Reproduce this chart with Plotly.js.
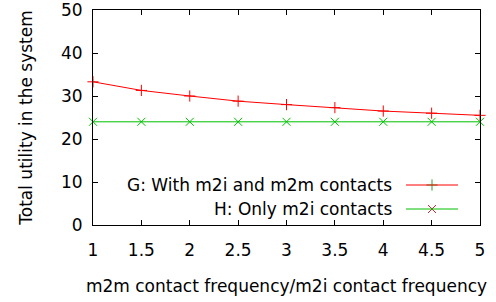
<!DOCTYPE html>
<html><head><meta charset="utf-8">
<script src="https://cdn.plot.ly/plotly-3.0.1.min.js"></script>
<style>html,body{margin:0;padding:0;background:#fff}#c{width:496px;height:302px}</style>
</head><body><div id="c"></div>
<script>
const ratio = [1, 1.5, 2, 2.5, 3, 3.5, 4, 4.5, 5];
const withM2m = [33.3, 31.3, 30.0, 28.8, 28.0, 27.3, 26.5, 26.0, 25.5];
const onlyM2i = [24.0, 24.0, 24.0, 24.0, 24.0, 24.0, 24.0, 24.0, 24.0];
const seriesNames = ["G: With m2i and m2m contacts", "H: Only m2i contacts"];
const xTicks = [1, 1.5, 2, 2.5, 3, 3.5, 4, 4.5, 5];
const yTicks = [0, 10, 20, 30, 40, 50];

const red = "#ff0000", green = "#00c000";
const font = {family: "DejaVu Sans, sans-serif", size: 17, color: "#000"};

const traces = [
  {x: ratio, y: withM2m, mode: "lines+markers", line: {color: red, width: 1}, cliponaxis: false,
   marker: {symbol: "cross-thin-open", size: 8, line: {color: red, width: 1}}, showlegend: false},
  {x: ratio, y: onlyM2i, mode: "lines+markers", line: {color: green, width: 1}, cliponaxis: false,
   marker: {symbol: "x-thin-open", size: 8, line: {color: green, width: 1}}, showlegend: false},
  {x: [0.5], y: [0.5], xaxis: "x2", yaxis: "y2", mode: "markers", hoverinfo: "skip", showlegend: false,
   marker: {symbol: "cross-thin-open", size: 8, line: {color: red, width: 1}}},
  {x: [0.5], y: [0.5], xaxis: "x3", yaxis: "y3", mode: "markers", hoverinfo: "skip", showlegend: false,
   marker: {symbol: "x-thin-open", size: 8, line: {color: green, width: 1}}}
];

const pl = 93, pr = 480, pt = 10, pb = 225, W = 496, H = 302;
const px = v => (v - pl) / (pr - pl);
const py = v => (pb - v) / (pb - pt);
const legY = [185, 209];
const lineX0 = 406, lineX1 = 458, markX = 432, textR = 394;

const hidden = {visible: false, range: [0, 1], fixedrange: true};
const layout = {
  width: W, height: H,
  margin: {l: pl, r: W - pr, t: pt, b: H - pb},
  paper_bgcolor: "#fff", plot_bgcolor: "#fff",
  font: font,
  showlegend: false,
  xaxis: {range: [1, 5], tickvals: xTicks, ticktext: xTicks.map(String), ticks: "inside", ticklen: 5,
    tickcolor: "#000", showline: true, linecolor: "#000", linewidth: 1, mirror: "allticks",
    showgrid: false, zeroline: false, tickfont: font, ticklabelstandoff: 10, ticklabeloverflow: "allow",
    title: {text: "m2m contact frequency/m2i contact frequency", font: font, standoff: 20}},
  yaxis: {range: [0, 50], tickvals: yTicks, ticks: "inside", ticklen: 5,
    tickcolor: "#000", showline: true, linecolor: "#000", linewidth: 1, mirror: "allticks",
    showgrid: false, zeroline: false, tickfont: font, ticklabelstandoff: 6, ticklabeloverflow: "allow",
    title: {text: "Total utility in the system", font: font, standoff: 24}},
  xaxis2: Object.assign({}, hidden, {domain: [px(markX) - 0.02, px(markX) + 0.02], anchor: "y2"}),
  yaxis2: Object.assign({}, hidden, {domain: [py(legY[0]) - 0.03, py(legY[0]) + 0.03], anchor: "x2"}),
  xaxis3: Object.assign({}, hidden, {domain: [px(markX) - 0.02, px(markX) + 0.02], anchor: "y3"}),
  yaxis3: Object.assign({}, hidden, {domain: [py(legY[1]) - 0.03, py(legY[1]) + 0.03], anchor: "x3"}),
  shapes: [
    {type: "line", xref: "paper", yref: "paper", x0: px(lineX0), x1: px(lineX1), y0: py(legY[0]), y1: py(legY[0]), line: {color: red, width: 1}},
    {type: "line", xref: "paper", yref: "paper", x0: px(lineX0), x1: px(lineX1), y0: py(legY[1]), y1: py(legY[1]), line: {color: green, width: 1}}
  ],
  annotations: seriesNames.map((t, i) => ({
    text: t, xref: "paper", yref: "paper", x: px(textR), y: py(legY[i]),
    xanchor: "right", yanchor: "middle", showarrow: false, font: font
  }))
};
Plotly.newPlot("c", traces, layout, {staticPlot: true, displayModeBar: false});
</script>
</body></html>
